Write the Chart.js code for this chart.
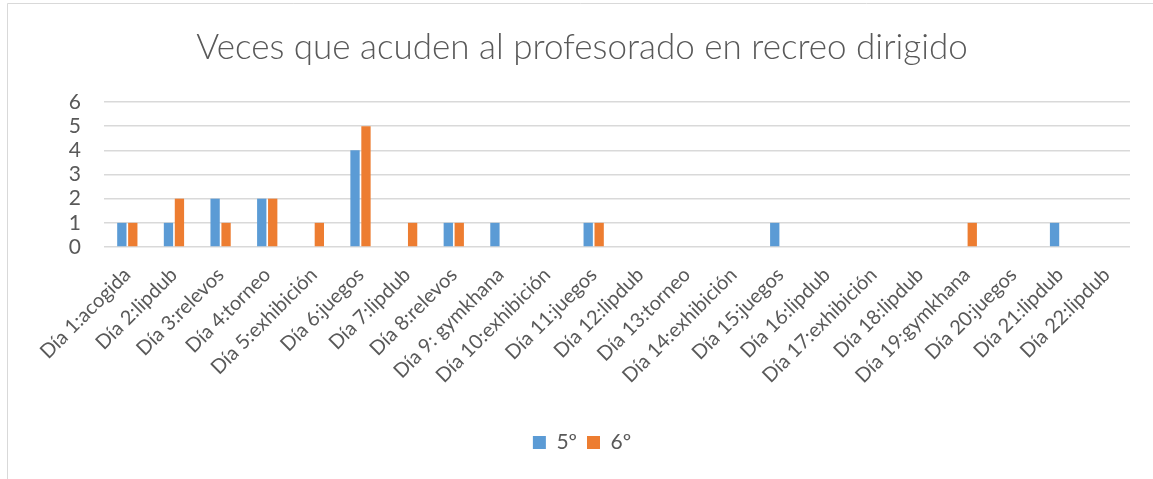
<!DOCTYPE html>
<html>
<head>
<meta charset="utf-8">
<script src="https://cdn.jsdelivr.net/npm/chart.js@4.4.1/dist/chart.umd.min.js"></script>
<style>
html,body{margin:0;padding:0;background:#fff;}
#wrap{position:relative;width:1153px;height:479px;}
canvas{display:block;}
</style>
</head>
<body>
<div id="wrap"><canvas id="c" width="1153" height="479"></canvas></div>
<script>
const categories = ["Día 1:acogida","Día 2:lipdub","Día 3:relevos","Día 4:torneo","Día 5:exhibición","Día 6:juegos","Día 7:lipdub","Día 8:relevos","Día 9: gymkhana","Día 10:exhibición","Día 11:juegos","Día 12:lipdub","Día 13:torneo","Día 14:exhibición","Día 15:juegos","Día 16:lipdub","Día 17:exhibición","Día 18:lipdub","Día 19:gymkhana","Día 20:juegos","Día 21:lipdub","Día 22:lipdub"];
const serie5 = [1,1,2,2,0,4,0,1,1,0,1,0,0,0,1,0,0,0,0,0,1,0];
const serie6 = [1,2,1,2,1,5,1,1,0,0,1,0,0,0,0,0,0,0,1,0,0,0];
const seriesNames = ["5º","6º"];
const yTicks = [0,1,2,3,4,5,6];
const chartTitle = "Veces que acuden al profesorado en recreo dirigido";

const TXT = '#595959';
const FONT = "Lato, 'Open Sans', sans-serif";

const frame = {
  id:'frame',
  beforeDraw(chart){
    const ctx = chart.ctx;
    ctx.save();
    ctx.fillStyle='#fff';
    ctx.fillRect(0,0,chart.width,chart.height);
    ctx.strokeStyle='#d9d9d9';
    ctx.lineWidth=1;
    ctx.beginPath();
    ctx.moveTo(7.5,chart.height);
    ctx.lineTo(7.5,3.5);
    ctx.lineTo(chart.width,3.5);
    ctx.stroke();
    ctx.restore();
  }
};

new Chart(document.getElementById('c'), {
  type:'bar',
  data:{
    labels:categories,
    datasets:[
      {label:seriesNames[0], data:serie5, backgroundColor:'#5B9BD5', borderWidth:0},
      {label:seriesNames[1], data:serie6, backgroundColor:'#ED7D31', borderWidth:0}
    ]
  },
  options:{
    responsive:false,
    animation:false,
    devicePixelRatio:1,
    layout:{padding:{left:34,right:23,top:10,bottom:16}},
    datasets:{bar:{categoryPercentage:0.47,barPercentage:0.85}},
    plugins:{
      title:{display:true,text:chartTitle,color:TXT,font:{family:FONT,size:35,weight:'300'},padding:{top:17,bottom:33}},
      legend:{position:'bottom',labels:{color:TXT,font:{family:FONT,size:21},boxWidth:13,boxHeight:13,padding:10}},
      tooltip:{enabled:false}
    },
    scales:{
      x:{
        grid:{display:false},
        border:{display:false},
        ticks:{color:TXT,font:{family:FONT,size:20},maxRotation:45,minRotation:45,autoSkip:false,padding:8},
        afterFit(s){s.height=175;}
      },
      y:{
        min:0,max:6,
        afterBuildTicks(s){s.ticks=yTicks.map(v=>({value:v}));},
        grid:{color:'#d9d9d9',lineWidth:1.5,drawTicks:false},
        border:{display:false},
        ticks:{color:TXT,font:{family:FONT,size:21},padding:23,autoSkip:false,stepSize:1},
        afterFit(s){s.width=70;}
      }
    }
  },
  plugins:[frame]
});
</script>
</body>
</html>
